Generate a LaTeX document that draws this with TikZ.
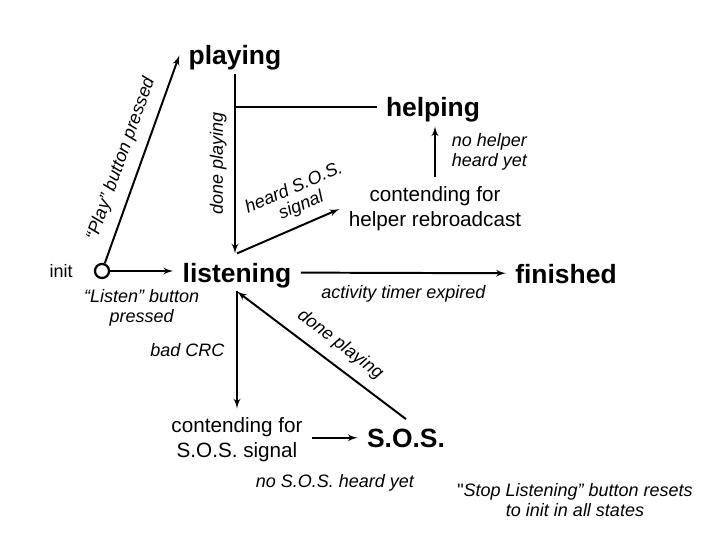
\documentclass[tikz,border=0pt]{standalone}
\usepackage{fontspec}
\setmainfont{Liberation Sans}
\newfontfamily\plainquote{Liberation Sans Italic}
\usetikzlibrary{arrows, positioning, calc}

\begin{document}
\begin{tikzpicture}[x=0.025cm, y=0.025cm, >=latex', line width=1.4pt,
  state/.style={inner sep=6pt, text depth=0pt, font=\fontsize{18.8}{22}\selectfont\bfseries},
  waitbox/.style={inner sep=6pt, align=center, font=\fontsize{14.7}{17.7}\selectfont},
  edgelabel/.style={inner sep=3.3pt, font=\fontsize{12.8}{14.6}\selectfont\itshape}]
    \useasboundingbox (0,0) rectangle (720,540);

    \node [state, anchor=base] (playing) at (235,475) {playing};
    \node [state, anchor=base] (helping) at (433,423) {helping};
    \node [state, anchor=base] (listening) at (237,258) {listening};
    \node [state, anchor=base] (finished) at (566,257) {finished};
    \node [state, anchor=base] (sos) at (406,93) {S.O.S.};

    \node [waitbox] (helpwait) at (435,331) {contending for\\helper rebroadcast};
    \node [waitbox] (soswait) at (237,100) {contending for\\S.O.S. signal};

    \node [draw, circle, minimum size=10pt, inner sep=0pt, line width=1.6pt, fill=white] (init) at (102,269) {};
    \node [left=11pt of init, font=\fontsize{12.8}{14.2}\selectfont] (initname) {init};

    \draw [->] (init) -- node[edgelabel, midway, below=9pt, align=center] {“Listen” button\\pressed} (init -| listening.west);
    \draw [->] (init) -- node[edgelabel, pos=0.47, sloped, above=4pt] {“Play” button pressed} (playing.west);

    \draw [<-] (playing.south |- listening.north) -- node[edgelabel, midway, sloped, above=2pt] {done playing} (playing.south);
    \draw (playing.south |- helping.west) -- (helping.west);

    \draw [->] (listening.north) -- node[edgelabel, pos=0.7, sloped, above=3pt, align=center, font=\fontsize{12.8}{13.2}\selectfont\itshape] {heard S.O.S.\\signal} (helpwait.west);
    \draw [->] (helpwait.north) -- node[edgelabel, midway, right=8pt, align=left] {no helper\\heard yet} (helpwait.north |- helping.south);

    \draw [->] (listening) -- node[edgelabel, midway, below=5pt] {activity timer expired} (finished);

    \draw [->] (listening.south) -- node[edgelabel, midway, left=5pt] {bad CRC} (soswait.north);
    \draw [->] (sos.west -| soswait.east) -- node[edgelabel, midway, below=22pt] {no S.O.S. heard yet} (sos.west);
    \draw [->] (sos.north) -- node[edgelabel, pos=0.46, sloped, above=4pt] {done playing} (listening.south);

    % note on reset
    \node [edgelabel, align=center] (note) at (575,40) {{\plainquote"}Stop Listening” button resets\\to init in all states};
\end{tikzpicture}
\end{document}
